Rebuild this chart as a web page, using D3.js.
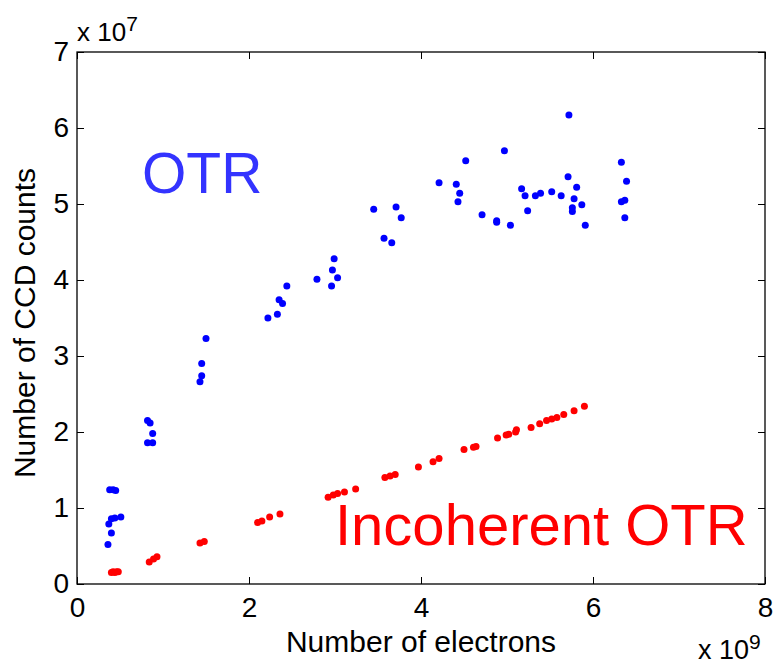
<!DOCTYPE html>
<html>
<head>
<meta charset="utf-8">
<script src="https://cdn.jsdelivr.net/npm/d3@7"></script>
<style>
  html, body { margin: 0; padding: 0; background: #fff; }
  svg { display: block; font-family: Arial, "Liberation Sans", Helvetica, sans-serif; }
</style>
</head>
<body>
<svg id="chart" width="774" height="666"></svg>
<script>
// Electron number in units of 1e9, CCD counts in units of 1e7
const otrElectrons = [
  0.36, 0.40, 0.37, 0.40, 0.44, 0.51, 0.38, 0.42, 0.45,
  0.82, 0.85, 0.88, 0.82, 0.88,
  1.43, 1.45, 1.45, 1.50,
  2.22, 2.33, 2.35, 2.39, 2.44,
  2.79, 2.96, 3.03, 2.97, 2.99,
  3.45, 3.71, 3.77, 3.57, 3.66,
  4.21, 4.41, 4.45, 4.43, 4.52, 4.71, 4.88, 4.88, 4.97, 5.04,
  5.17, 5.21, 5.24, 5.33, 5.39, 5.52, 5.63, 5.72, 5.71, 5.81,
  5.78, 5.76, 5.76, 5.87, 5.91, 6.33, 6.39, 6.33, 6.37, 6.37
];
const otrCounts = [
  0.52, 0.67, 0.79, 0.86, 0.87, 0.88, 1.24, 1.24, 1.23,
  2.15, 2.12, 1.98, 1.86, 1.86,
  2.66, 2.74, 2.90, 3.23,
  3.50, 3.55, 3.74, 3.69, 3.92,
  4.01, 3.92, 4.03, 4.13, 4.28,
  4.93, 4.96, 4.82, 4.55, 4.49,
  5.28, 5.26, 5.14, 5.03, 5.57, 4.86, 4.78, 4.76, 5.70, 4.72,
  5.20, 5.11, 4.91, 5.11, 5.14, 5.16, 5.11, 6.17, 5.36, 5.22,
  5.07, 4.95, 4.90, 4.99, 4.72, 5.55, 5.30, 5.03, 5.05, 4.82
];
const iotrElectrons = [
  0.40, 0.42, 0.44, 0.46, 0.48,
  0.84, 0.89, 0.93,
  1.43, 1.48,
  2.10, 2.15, 2.24, 2.36,
  2.92, 2.98, 3.03, 3.11, 3.24,
  3.58, 3.64, 3.70, 3.97, 4.14, 4.21,
  4.50, 4.61, 4.64,
  4.89, 4.99, 5.02, 5.10, 5.11, 5.28,
  5.38, 5.46, 5.52, 5.58, 5.66, 5.78, 5.90
];
const iotrCounts = [
  0.15, 0.16, 0.15, 0.16, 0.16,
  0.29, 0.33, 0.36,
  0.54, 0.56,
  0.81, 0.83, 0.88, 0.92,
  1.14, 1.17, 1.19, 1.21, 1.25,
  1.40, 1.42, 1.44, 1.54, 1.61, 1.65,
  1.77, 1.80, 1.81,
  1.92, 1.96, 1.97, 2.00, 2.03, 2.06,
  2.11, 2.15, 2.17, 2.19, 2.23, 2.28, 2.34
];
const xTicks = [0, 2, 4, 6, 8];
const yTicks = [0, 1, 2, 3, 4, 5, 6, 7];

const svg = d3.select("#chart");
const plotLeft = 77, plotRight = 765, plotTop = 52, plotBottom = 584;

const x = d3.scaleLinear().domain([0, 8]).range([plotLeft, plotRight]);
const y = d3.scaleLinear().domain([0, 7]).range([plotBottom, plotTop]);

const tickLen = 7;
const fontSize = 28;
const fmt = d3.format("d");

// Axes on all four sides, ticks pointing inward
const axisStyle = g => {
  g.select(".domain").remove();
  g.selectAll(".tick line").attr("stroke", "#000").attr("stroke-width", 1);
  g.selectAll(".tick text").attr("fill", "#000").attr("font-size", fontSize)
    .attr("font-family", "Arial, 'Liberation Sans', sans-serif");
};

svg.append("g").attr("transform", `translate(0,${plotBottom})`)
  .call(d3.axisBottom(x).tickValues(xTicks).tickFormat(fmt).tickSizeInner(-tickLen).tickSizeOuter(0).tickPadding(13))
  .call(axisStyle);
svg.append("g").attr("transform", `translate(0,${plotTop})`)
  .call(d3.axisTop(x).tickValues(xTicks).tickSizeInner(-tickLen).tickSizeOuter(0).tickFormat(""))
  .call(axisStyle);
svg.append("g").attr("transform", `translate(${plotLeft},0)`)
  .call(d3.axisLeft(y).tickValues(yTicks).tickFormat(fmt).tickSizeInner(-tickLen).tickSizeOuter(0).tickPadding(8))
  .call(axisStyle);
svg.append("g").attr("transform", `translate(${plotRight},0)`)
  .call(d3.axisRight(y).tickValues(yTicks).tickSizeInner(-tickLen).tickSizeOuter(0).tickFormat(""))
  .call(axisStyle);

// Box
svg.append("rect")
  .attr("x", plotLeft).attr("y", plotTop)
  .attr("width", plotRight - plotLeft).attr("height", plotBottom - plotTop)
  .attr("fill", "none").attr("stroke", "#000").attr("stroke-width", 1.3);

// Scatter points
const otr = otrElectrons.map((e, i) => [e, otrCounts[i]]);
const iotr = iotrElectrons.map((e, i) => [e, iotrCounts[i]]);

svg.append("g").selectAll("circle").data(otr).join("circle")
  .attr("cx", d => x(d[0])).attr("cy", d => y(d[1]))
  .attr("r", 3.5).attr("fill", "#0000ff");
svg.append("g").selectAll("circle").data(iotr).join("circle")
  .attr("cx", d => x(d[0])).attr("cy", d => y(d[1]))
  .attr("r", 3.5).attr("fill", "#ff0000");

// Series annotations
svg.append("text").attr("x", 142).attr("y", 193)
  .attr("font-size", 57).attr("fill", "#3333ff").text("OTR");
svg.append("text").attr("x", 335).attr("y", 545)
  .attr("font-size", 58).attr("fill", "#ff0000").text("Incoherent OTR");

// Axis titles
svg.append("text").attr("x", (plotLeft + plotRight) / 2).attr("y", 652)
  .attr("text-anchor", "middle").attr("font-size", 30).attr("fill", "#000")
  .text("Number of electrons");
svg.append("text")
  .attr("transform", `translate(35,${(plotTop + plotBottom) / 2 + 5}) rotate(-90)`)
  .attr("text-anchor", "middle").attr("font-size", 30).attr("fill", "#000")
  .text("Number of CCD counts");

// Exponent multipliers
const yMult = svg.append("text").attr("x", 77).attr("y", 41)
  .attr("font-size", 26).attr("fill", "#000");
yMult.append("tspan").text("x 10");
yMult.append("tspan").attr("font-size", 21).attr("dy", -10).text("7");

const xMult = svg.append("text").attr("x", 698).attr("y", 659)
  .attr("font-size", 27).attr("fill", "#000");
xMult.append("tspan").text("x 10");
xMult.append("tspan").attr("font-size", 21).attr("dy", -10).text("9");
</script>
</body>
</html>
